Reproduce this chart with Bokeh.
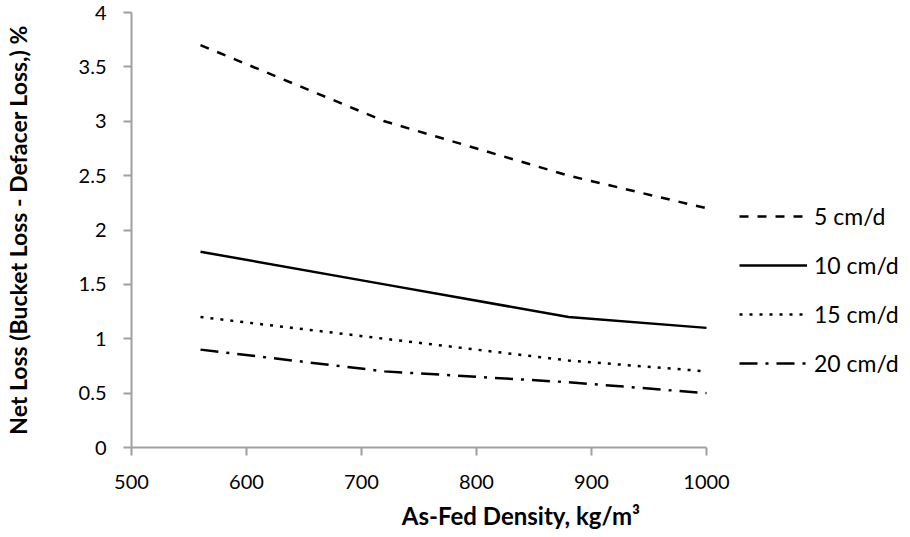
from bokeh.plotting import figure
from bokeh.models import Range1d, Legend, LegendItem, FixedTicker
from bokeh.embed import file_html
from bokeh.resources import INLINE

# ---- data ----
density = [560, 720, 880, 1000]
loss_5 = [3.7, 3.0, 2.5, 2.2]
loss_10 = [1.8, 1.5, 1.2, 1.1]
loss_15 = [1.2, 1.0, 0.8, 0.7]
loss_20 = [0.9, 0.7, 0.6, 0.5]
series_labels = ["5 cm/d", "10 cm/d", "15 cm/d", "20 cm/d"]
x_ticks = [500, 600, 700, 800, 900, 1000]
y_ticks = [0, 0.5, 1, 1.5, 2, 2.5, 3, 3.5, 4]

FONT = "Lato"
AXIS_COL = "#A0A0A0"

W, H = 910, 537
LEFT, TOP, BOTTOM = 131, 12, 90
# frame extends to the right edge so the legend can sit inside it;
# the x axis itself is bounded to 500..1000
x_end = 500 + (W - LEFT) * 500 / 575.0

p = figure(width=W, height=H, output_backend="svg", toolbar_location=None,
           x_range=Range1d(500, x_end), y_range=Range1d(0, 4),
           min_border_left=LEFT, min_border_top=TOP, min_border_bottom=BOTTOM,
           min_border_right=0)
p.outline_line_color = None
p.grid.visible = False
p.background_fill_color = "white"
p.border_fill_color = "white"

p.xaxis.ticker = FixedTicker(ticks=x_ticks)
p.xaxis.bounds = (500, 1000)
p.yaxis.ticker = FixedTicker(ticks=y_ticks)
p.yaxis.major_label_overrides = {0: "0", 0.5: "0.5", 1: "1", 1.5: "1.5", 2: "2",
                                 2.5: "2.5", 3: "3", 3.5: "3.5", 4: "4"}

for ax in (p.xaxis[0], p.yaxis[0]):
    ax.axis_line_color = AXIS_COL
    ax.axis_line_width = 2
    ax.major_tick_line_color = AXIS_COL
    ax.major_tick_line_width = 2
    ax.major_tick_out = 8
    ax.major_tick_in = 0
    ax.minor_tick_line_color = None
    ax.major_label_text_font = FONT
    ax.major_label_text_font_size = "20px"
    ax.major_label_text_color = "#000000"
    ax.axis_label_text_font = FONT
    ax.axis_label_text_font_style = "bold"
    ax.axis_label_text_color = "#000000"

p.xaxis.axis_label_text_font_size = "24px"
p.yaxis.axis_label_text_font_size = "23px"
p.xaxis.axis_label = "As-Fed Density, kg/m³"
p.yaxis.axis_label = "Net Loss (Bucket Loss - Defacer Loss,) %"
p.xaxis.major_label_standoff = 19
p.xaxis.axis_label_standoff = 9
p.yaxis.major_label_standoff = 17
p.yaxis.axis_label_standoff = 44

r5 = p.line(density, loss_5, line_color="black", line_width=2.5, line_dash="9 9")
r10 = p.line(density, loss_10, line_color="black", line_width=2.5)
r15 = p.line(density, loss_15, line_color="black", line_width=2.5, line_dash="3 7")
r20 = p.line(density, loss_20, line_color="black", line_width=2.5, line_dash="18 8 3 8")

legend = Legend(items=[LegendItem(label=l, renderers=[r]) for l, r in
                       zip(series_labels, [r5, r10, r15, r20])],
                location=(608, 70), orientation="vertical",
                glyph_width=68, glyph_height=20, label_height=20,
                label_standoff=7, spacing=21, padding=0, margin=0,
                border_line_color=None, background_fill_alpha=0,
                label_text_font=FONT, label_text_font_size="23px",
                label_text_color="#000000")
p.add_layout(legend, "center")

open("out.html", "w").write(file_html(p, INLINE))
